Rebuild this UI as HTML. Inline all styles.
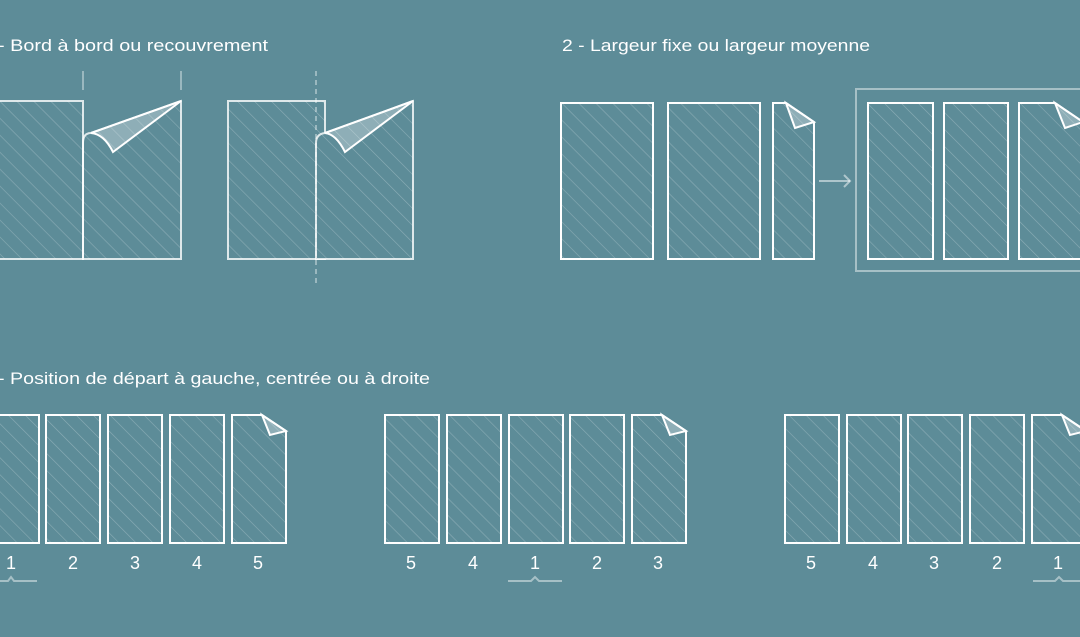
<!DOCTYPE html>
<html><head><meta charset="utf-8"><style>
html,body{margin:0;padding:0;background:#5d8c98;}
svg{display:block;}
text{font-family:"Liberation Sans",sans-serif;fill:#fff;}
</style></head><body>
<svg width="1080" height="637" viewBox="0 0 1080 637" xmlns="http://www.w3.org/2000/svg">
<defs>
<pattern id="h" width="12" height="12" patternUnits="userSpaceOnUse" patternTransform="rotate(-45)">
<line x1="0" y1="0" x2="0" y2="12" stroke="rgba(255,255,255,0.28)" stroke-width="1.2"/>
</pattern>
</defs>
<rect width="1080" height="637" fill="#5d8c98"/>

<text x="-2" y="51" font-size="17" textLength="270" lengthAdjust="spacingAndGlyphs">- Bord à bord ou recouvrement</text>
<text x="562" y="51" font-size="17" textLength="308" lengthAdjust="spacingAndGlyphs">2 - Largeur fixe ou largeur moyenne</text>
<text x="-2" y="384" font-size="17" textLength="432" lengthAdjust="spacingAndGlyphs">- Position de départ à gauche, centrée ou à droite</text>

<g stroke="rgba(255,255,255,0.5)" stroke-width="1.5">
<line x1="83" y1="71" x2="83" y2="90"/>
<line x1="181" y1="71" x2="181" y2="90"/>
</g>
<g stroke="#fff" stroke-width="2" fill="url(#h)">
<rect x="-5" y="101" width="88" height="158" stroke="rgba(255,255,255,0.8)"/>
<path d="M83,259 L83,143 Q83,133 91,133 L181,101 L181,259 Z" stroke="rgba(255,255,255,0.8)"/>
<path d="M91,133 L181,101 L113,152 Q104,134 91,133 Z" fill="rgba(255,255,255,0.3)"/>
<rect x="228" y="101" width="97" height="158" stroke="rgba(255,255,255,0.8)"/>
<path d="M316,259 L316,143 Q316,134 325,133 L413,101 L413,259 Z" fill="#5d8c98" stroke="none"/>
<path d="M316,259 L316,143 Q316,134 325,133 L413,101 L413,259 Z" stroke="rgba(255,255,255,0.8)"/>
<path d="M325,133 L413,101 L345,152 Q336,134 325,133 Z" fill="rgba(255,255,255,0.3)"/>
</g>
<line x1="316" y1="71" x2="316" y2="286" stroke="rgba(255,255,255,0.5)" stroke-width="1.5" stroke-dasharray="5,4"/>

<g stroke="#fff" stroke-width="2" fill="url(#h)">
<rect x="561" y="103" width="92" height="156"/>
<rect x="668" y="103" width="92" height="156"/>
<path d="M773,103 H786 L814,122 V259 H773 Z"/>
<path d="M786,103 L814,122 L795,128 Z" fill="rgba(255,255,255,0.3)"/>
<rect x="868" y="103" width="65" height="156"/>
<rect x="944" y="103" width="64" height="156"/>
<path d="M1019,103 H1055 L1083,122 V259 H1019 Z"/>
<path d="M1055,103 L1083,122 L1065,128 Z" fill="rgba(255,255,255,0.3)"/>
</g>
<rect x="856" y="89" width="230" height="182" fill="none" stroke="rgba(255,255,255,0.45)" stroke-width="2"/>
<g stroke="rgba(255,255,255,0.5)" stroke-width="2" fill="none">
<line x1="819" y1="181" x2="850" y2="181"/>
<polyline points="844,175 850,181 844,187"/>
</g>

<g stroke="#fff" stroke-width="2" fill="url(#h)">
<rect x="-5" y="415" width="44" height="128"/>
<rect x="46" y="415" width="54" height="128"/>
<rect x="108" y="415" width="54" height="128"/>
<rect x="170" y="415" width="54" height="128"/>
<path d="M232,415 H262 L286,431 V543 H232 Z"/>
<path d="M262,415 L286,431 L270,435 Z" fill="rgba(255,255,255,0.3)"/>

<rect x="385" y="415" width="54" height="128"/>
<rect x="447" y="415" width="54" height="128"/>
<rect x="509" y="415" width="54" height="128"/>
<rect x="570" y="415" width="54" height="128"/>
<path d="M632,415 H662 L686,431 V543 H632 Z"/>
<path d="M662,415 L686,431 L670,435 Z" fill="rgba(255,255,255,0.3)"/>

<rect x="785" y="415" width="54" height="128"/>
<rect x="847" y="415" width="54" height="128"/>
<rect x="908" y="415" width="54" height="128"/>
<rect x="970" y="415" width="54" height="128"/>
<path d="M1032,415 H1062 L1086,431 V543 H1032 Z"/>
<path d="M1062,415 L1086,431 L1070,435 Z" fill="rgba(255,255,255,0.3)"/>
</g>

<g font-size="18" text-anchor="middle" style="font-weight:300">
<text x="11" y="569">1</text><text x="73" y="569">2</text><text x="135" y="569">3</text><text x="197" y="569">4</text><text x="258" y="569">5</text>
<text x="411" y="569">5</text><text x="473" y="569">4</text><text x="535" y="569">1</text><text x="597" y="569">2</text><text x="658" y="569">3</text>
<text x="811" y="569">5</text><text x="873" y="569">4</text><text x="934" y="569">3</text><text x="997" y="569">2</text><text x="1058" y="569">1</text>
</g>
<g stroke="rgba(255,255,255,0.45)" stroke-width="2" fill="none">
<polyline points="-2,581 8,581 11,577 14,581 37,581"/>
<polyline points="508,581 531,581 535,577 539,581 562,581"/>
<polyline points="1033,581 1055,581 1059,577 1063,581 1082,581"/>
</g>
</svg>
</body></html>
